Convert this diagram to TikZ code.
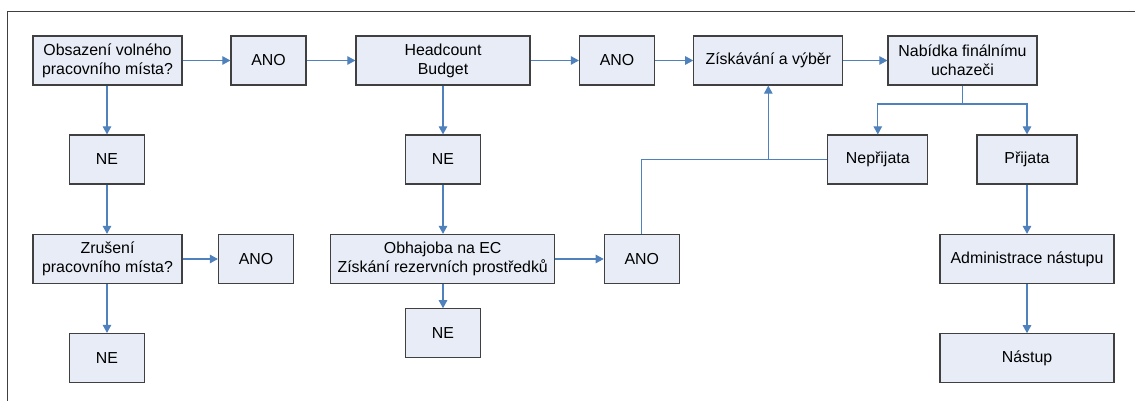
\documentclass[tikz,border=0pt]{standalone}
\usepackage{fontspec}
\setmainfont{Liberation Sans}
\usetikzlibrary{arrows.meta}
\definecolor{boxfill}{HTML}{E7ECF6}
\definecolor{boxline}{HTML}{404040}
\definecolor{conn}{HTML}{4F81BD}
\begin{document}
\begin{tikzpicture}[x=1pt,y=-1pt,
  box/.style={draw=boxline, fill=boxfill, line width=1.2pt, inner sep=0pt,
    minimum height=49pt, align=center, font=\fontsize{15.9}{19}\selectfont},
  wide/.style={box, minimum width=149pt},
  small/.style={box, minimum width=75pt},
  mid/.style={box, minimum width=100pt},
  link/.style={draw=conn, line width=1.1pt},
  arr/.style={link, -{Triangle[length=8pt,width=8.5pt]}}]
\useasboundingbox (0,0) rectangle (1140,401);
\draw[boxline, line width=1.2pt] (7.5,401) -- (7.5,11.5) -- (1135,11.5);
% top row
\node[wide] (obs) at (107.5,60.5) {Obsazení volného\\pracovního místa?};
\node[small] (ano1) at (268.5,60.5) {ANO};
\node[box, minimum width=174pt] (head) at (443,60.5) {Headcount\\Budget};
\node[small] (ano2) at (617,60.5) {ANO};
\node[wide] (zis) at (768.3,60.5) {Získávání a výběr};
\node[wide] (nab) at (962.5,60.5) {Nabídka finálnímu\\uchazeči};
% left column
\node[small] (ne1) at (107,159.5) {NE};
\node[wide] (zru) at (107.5,259) {Zrušení\\pracovního místa?};
\node[small] (ano3) at (256,259) {ANO};
\node[small] (ne2) at (107,358) {NE};
% middle column
\node[small] (ne4) at (443,159.5) {NE};
\node[box, minimum width=224pt] (obh) at (442.7,259) {Obhajoba na EC\\Získání rezervních prostředků};
\node[small] (ano4) at (641.8,259) {ANO};
\node[small] (ne3) at (443,333.3) {NE};
% right part
\node[mid] (nepr) at (877.8,159.5) {Nepřijata};
\node[mid] (prij) at (1027,159.5) {Přijata};
\node[box, minimum width=174pt] (adm) at (1027,259) {Administrace nástupu};
\node[box, minimum width=174pt] (nas) at (1027,358.3) {Nástup};
% connectors
\draw[arr] (obs) -- (ano1);
\draw[arr] (ano1) -- (head);
\draw[arr] (head) -- (ano2);
\draw[arr] (ano2) -- (zis);
\draw[arr] (zis) -- (nab);
\draw[arr] (obs.south -| ne1) -- (ne1);
\draw[arr] (ne1) -- (ne1 |- zru.north);
\draw[arr] (zru) -- (ano3);
\draw[arr] (ne1 |- zru.south) -- (ne2);
\draw[arr] (head) -- (ne4);
\draw[arr] (ne4) -- (ne4 |- obh.north);
\draw[arr] (ne4 |- obh.south) -- (ne3);
\draw[arr] (obh) -- (ano4);
\draw[link] (ano4.north) |- (nepr.west);
\draw[arr] (zis.south |- nepr.west) -- (zis.south);
\coordinate (split) at (nab.south |- 0,104);
\draw[link] (nab.south) -- (split);
\draw[arr] (split) -| (nepr.north);
\draw[arr] (split) -| (prij.north);
\draw[arr] (prij) -- (adm);
\draw[arr] (adm) -- (nas);
\end{tikzpicture}
\end{document}
